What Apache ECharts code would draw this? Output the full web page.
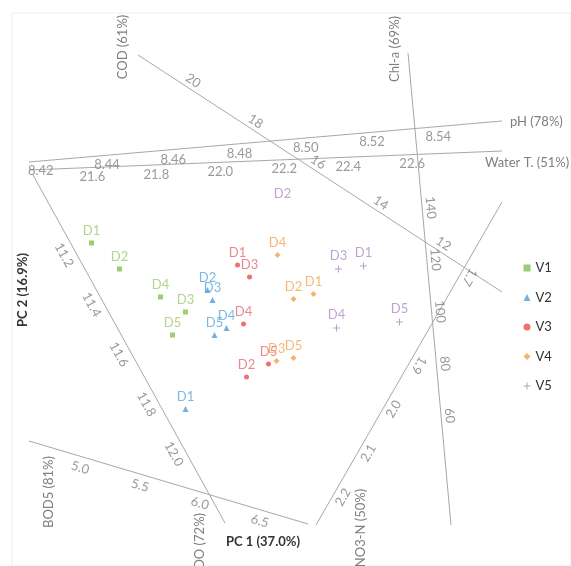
<!DOCTYPE html>
<html><head><meta charset="utf-8">
<script src="https://cdn.jsdelivr.net/npm/echarts@6/dist/echarts.min.js"></script>
<style>html,body{margin:0;padding:0;background:#fff}#c{width:571px;height:566px}</style>
</head><body><div id="c"></div>
<script>
// ---------- DATA ----------
const groups = ['V1', 'V2', 'V3', 'V4', 'V5'];
const sites = ['D1', 'D2', 'D3', 'D4', 'D5'];
// PCA scores, sites D1..D5
const v1PC1 = [-1.94, -1.66, -1.00, -1.25, -1.13];
const v1PC2 = [0.40, 0.14, -0.29, -0.14, -0.52];
const v2PC1 = [-1.00, -0.78, -0.73, -0.59, -0.71];
const v2PC2 = [-1.26, -0.07, -0.17, -0.45, -0.52];
const v3PC1 = [-0.48, -0.39, -0.36, -0.42, -0.17];
const v3PC2 = [0.18, -0.94, 0.06, -0.41, -0.81];
const v4PC1 = [0.28, 0.08, -0.09, -0.08, 0.08];
const v4PC2 = [-0.11, -0.16, -0.78, 0.28, -0.75];
const v5PC1 = [0.78, -0.03, 0.53, 0.51, 1.14];
const v5PC2 = [0.17, 0.80, 0.14, -0.45, -0.39];

// calibrated biplot axis tick labels
const codTicks = ['20', '18', '16', '14', '12'];
const chlTicks = ['140', '120', '100', '80', '60'];
const phTicks = ['8.42', '8.44', '8.46', '8.48', '8.50', '8.52', '8.54'];
const waterTicks = ['21.6', '21.8', '22.0', '22.2', '22.4', '22.6'];
const doTicks = ['11.2', '11.4', '11.6', '11.8', '12.0'];
const bodTicks = ['5.0', '5.5', '6.0', '6.5'];
const no3Ticks = ['1.7', '1.9', '2.0', '2.1', '2.2'];
const no3Flipped = ['1.7', '1.9'];

// ---------- GEOMETRY / STYLE ----------
// each calibrated axis: ends a,b in PC space, value at each end, label offset (+ = left normal)
const bipAxes = [
  { ticks: codTicks, a: [-1.475, 2.28], b: [2.165, -0.09], va: 21.61, vb: 9.98, off: 0.085 },
  { ticks: chlTicks, a: [1.225, 2.30], b: [1.655, -2.42], va: 199.8, vb: 18.2, off: 0.085 },
  { ticks: phTicks, a: [-2.565, 1.21], b: [2.165, 1.62], va: 8.4167, vb: 8.5595, off: -0.10, flat: true },
  { ticks: waterTicks, a: [-2.565, 1.13], b: [2.165, 1.32], va: 21.403, vb: 22.882, off: -0.095, flat: true },
  { ticks: doTicks, a: [-2.525, 1.08], b: [-0.605, -2.40], va: 10.90, vb: 12.30, off: -0.115 },
  { ticks: bodTicks, a: [-2.565, -1.58], b: [0.225, -2.41], va: 4.547, vb: 6.876, off: -0.11 },
  { ticks: no3Ticks, a: [0.305, -2.42], b: [2.165, 0.81], va: 2.274, vb: 1.540, off: -0.095, flip: no3Flipped }
];

const colors = ['#86bf4e', '#4e9ed6', '#e5504a', '#f2a048', '#a48bbd'];
const labelColors = ['#9dcb6b', '#5aa8dc', '#e8686a', '#f4a853', '#b08ccc'];
const symbols = ['rect', 'triangle', 'circle', 'diamond', 'path://M3,0h1v3h3v1h-3v3h-1v-3h-3v-1h3z'];
const sizes = [5, 6, 5, 6, 7];
const FONT = 'Lato';
const AXIS_COLOR = '#a8a8a8';
const TICK_COLOR = '#7f7f7f';

const pcs = [[v1PC1, v1PC2], [v2PC1, v2PC2], [v3PC1, v3PC2], [v4PC1, v4PC2], [v5PC1, v5PC2]];
const hidden = { 'V5': ['D2'] };

const series = [];

// biplot axis lines
bipAxes.forEach(ax => {
  series.push({
    type: 'line', data: [ax.a, ax.b], symbol: 'none', silent: true, z: 1,
    lineStyle: { color: AXIS_COLOR, width: 1 }, animation: false
  });
});

// tick labels
const tickData = [];
bipAxes.forEach(ax => {
  const dx = ax.b[0] - ax.a[0], dy = ax.b[1] - ax.a[1];
  const len = Math.hypot(dx, dy);
  const nx = -dy / len, ny = dx / len;
  const ang = Math.atan2(dy, dx) * 180 / Math.PI;
  ax.ticks.forEach(t => {
    const v = parseFloat(t);
    const f = (v - ax.va) / (ax.vb - ax.va);
    const x = ax.a[0] + f * dx + ax.off * nx;
    const y = ax.a[1] + f * dy + ax.off * ny;
    let rot = ax.flat ? 0 : ang;
    if (ax.flip && ax.flip.indexOf(t) >= 0) rot = ang - 180;
    tickData.push({ value: [x, y], label: { formatter: t, rotate: rot } });
  });
});
series.push({
  type: 'scatter', data: tickData, symbolSize: 0, silent: true, z: 2, animation: false,
  label: { show: true, position: 'inside', color: TICK_COLOR, fontSize: 13, fontFamily: FONT,
           align: 'center', verticalAlign: 'middle' }
});

// sample points
groups.forEach((g, gi) => {
  const data = sites.map((s, i) => {
    const item = { value: [pcs[gi][0][i], pcs[gi][1][i]], name: s };
    if (hidden[g] && hidden[g].indexOf(s) >= 0) item.symbolSize = 0;
    return item;
  });
  series.push({
    name: g, type: 'scatter', data: data, symbol: symbols[gi], symbolSize: sizes[gi],
    itemStyle: { color: colors[gi] }, z: 5, animation: false, silent: true,
    label: { show: true, position: 'top', distance: 3, formatter: p => p.name,
             color: labelColors[gi], fontSize: 13, fontFamily: FONT }
  });
});

function txt(text, x, y, opts) {
  opts = opts || {};
  return {
    type: 'text', x: x, y: y, rotation: opts.rot || 0, z: 10, silent: true,
    style: {
      text: text, fill: opts.color || TICK_COLOR, font: (opts.weight || 'normal') + ' ' + (opts.size || 13) + 'px ' + FONT,
      align: opts.align || 'center', verticalAlign: 'middle', textAlign: opts.align || 'center', textVerticalAlign: 'middle'
    }
  };
}
const R = Math.PI / 2;

const option = {
  backgroundColor: '#fff',
  animation: false,
  grid: { left: 12, top: 13, right: 0, bottom: 0, show: true, borderColor: '#eeeeee', borderWidth: 1 },
  xAxis: { type: 'value', min: -2.735, max: 2.855, show: false },
  yAxis: { type: 'value', min: -2.83, max: 2.70, show: false },
  legend: {
    data: groups, orient: 'vertical', left: 518.5, top: 256, itemWidth: 7, itemHeight: 7,
    itemGap: 15.5, itemTextGap: 17.5, selectedMode: false,
    textStyle: { fontSize: 13, color: '#333', fontFamily: FONT, lineHeight: 14 }
  },
  graphic: [
    txt('COD (61%)', 123, 47, { rot: R }),
    txt('Chl-a (69%)', 395, 49, { rot: R }),
    txt('pH (78%)', 510, 122, { align: 'left' }),
    txt('Water T. (51%)', 485, 163, { align: 'left' }),
    txt('BOD5 (81%)', 49, 492, { rot: R }),
    txt('DO (72%)', 200, 541, { rot: R }),
    txt('NO3-N (50%)', 361, 528, { rot: R }),
    txt('PC 1 (37.0%)', 263, 542, { color: '#333', weight: 'bold' }),
    txt('PC 2 (16.9%)', 23, 290, { rot: R, color: '#333', weight: 'bold' })
  ],
  series: series
};

const chart = echarts.init(document.getElementById('c'), null, { renderer: 'canvas' });
chart.setOption(option);
</script>
</body></html>
